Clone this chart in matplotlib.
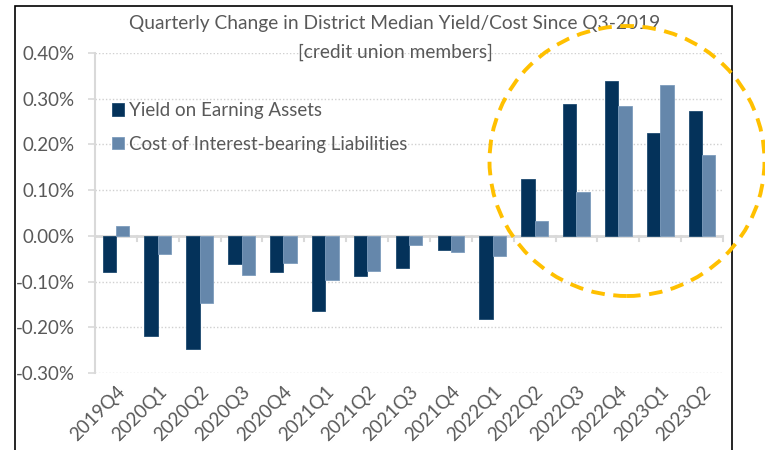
import numpy as np
import matplotlib.pyplot as plt
from matplotlib.patches import Rectangle, Ellipse

# datos (en %)
trimestres = ['2019Q4', '2020Q1', '2020Q2', '2020Q3', '2020Q4', '2021Q1', '2021Q2',
              '2021Q3', '2021Q4', '2022Q1', '2022Q2', '2022Q3', '2022Q4', '2023Q1', '2023Q2']
rendimiento = [-0.078, -0.220, -0.247, -0.062, -0.080, -0.164, -0.087,
               -0.071, -0.031, -0.182, 0.125, 0.289, 0.339, 0.226, 0.274]
costo = [0.022, -0.040, -0.146, -0.085, -0.060, -0.096, -0.076,
         -0.020, -0.036, -0.045, 0.032, 0.096, 0.285, 0.330, 0.176]
yticks = [-0.3, -0.2, -0.1, 0.0, 0.1, 0.2, 0.3, 0.4]

plt.rcParams['font.family'] = ['Lato', 'DejaVu Sans']
gris = '#595959'
oscuro = '#04325a'
claro = '#6587ab'

W, H = 765, 450
fig = plt.figure(figsize=(W / 100, H / 100), dpi=100)
ax = fig.add_axes([95 / W, 1 - 373 / H, (723 - 95) / W, (373 - 53) / H])

x = np.arange(len(trimestres))
ancho = 0.318
ax.bar(x - ancho / 2, rendimiento, ancho, color=oscuro, edgecolor='#1d4a70', linewidth=0.6,
       label='Yield on Earning Assets', zorder=3)
ax.bar(x + ancho / 2, costo, ancho, color=claro, edgecolor='#7d9cbd', linewidth=0.6,
       label='Cost of Interest-bearing Liabilities', zorder=3)

ax.set_xlim(-0.5, len(trimestres) - 0.5)
ax.set_ylim(-0.3, 0.4)
ax.set_yticks(yticks)
ax.set_yticklabels(['%.2f%%' % v for v in yticks], fontsize=13.5, color=gris)
ax.set_xticks(x)
ax.set_xticklabels(trimestres, rotation=45, ha='right', rotation_mode='anchor',
                   fontsize=13.5, color=gris)
ax.tick_params(axis='x', length=0, pad=7)
ax.tick_params(axis='y', length=5, color='#d9d9d9', width=1.2, pad=9.5)

for s in ['top', 'right', 'bottom']:
    ax.spines[s].set_visible(False)
ax.spines['left'].set_color('#d9d9d9')
ax.spines['left'].set_linewidth(1.5)

ax.grid(axis='y', linestyle=(0, (1, 1.5)), color='#d0d0d0', linewidth=1, zorder=0)
ax.axhline(0, color='#d9d9d9', linewidth=2, zorder=2)
# marcas del eje de categorias
for b in np.arange(0.5, len(trimestres), 1.0):
    ax.plot([b, b], [0, -0.011], color='#d9d9d9', linewidth=1.5, zorder=2, clip_on=False)

ax.legend(loc='upper left', bbox_to_anchor=(0.0, 0.90), frameon=False, fontsize=13.5,
          handlelength=0.65, handleheight=0.65, handletextpad=0.25, labelspacing=0.9,
          labelcolor=gris)

fig.text(395 / W, 1 - 24 / H, 'Quarterly Change in District Median Yield/Cost Since Q3-2019',
         ha='center', va='center', fontsize=13.8, color=gris)
fig.text(395 / W, 1 - 52 / H, '[credit union members]',
         ha='center', va='center', fontsize=13.8, color=gris)

# marco negro
fig.patches.append(Rectangle((15 / W, -0.05), (732 - 15) / W, 1 - 6 / H + 0.05,
                             transform=fig.transFigure, fill=False, edgecolor='black',
                             linewidth=1.2))
# elipse punteada
fig.patches.append(Ellipse((627 / W, 1 - 161 / H), 275 / W, 270 / H,
                           transform=fig.transFigure, fill=False, edgecolor='#ffc000',
                           linewidth=2.8, linestyle=(0, (3.5, 2.2)), zorder=5))

fig.savefig('out.png', dpi=100)
